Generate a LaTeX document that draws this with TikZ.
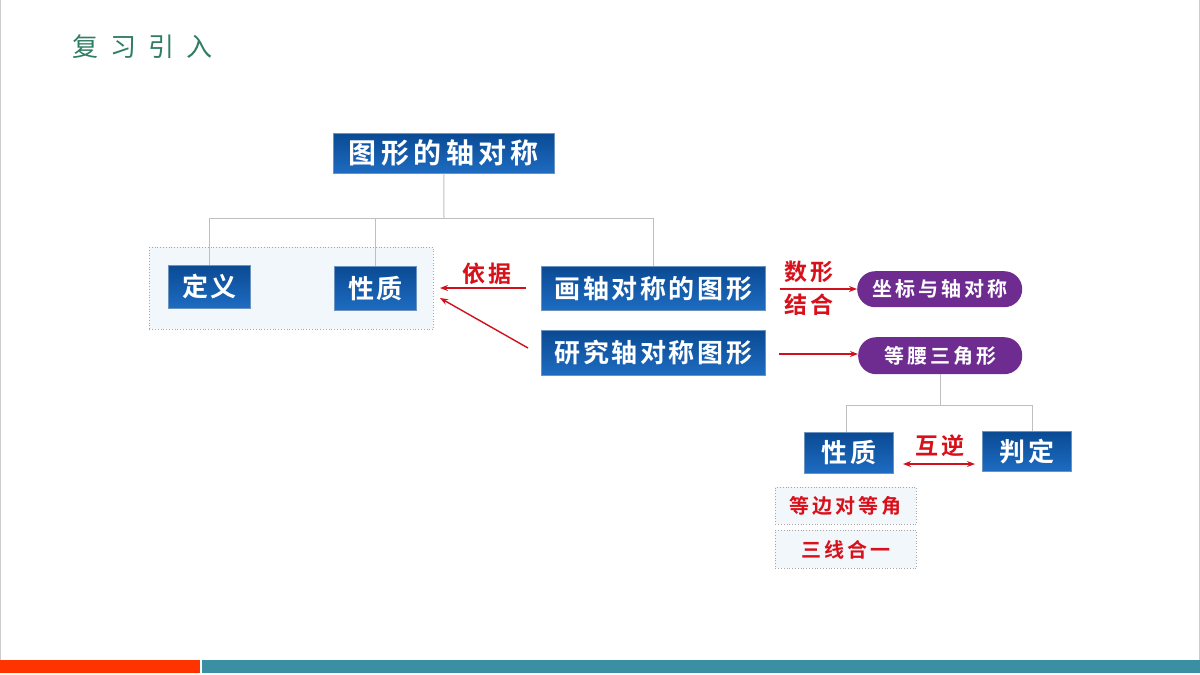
\documentclass[tikz,border=0pt]{standalone}
\usepackage{fontspec}
\newfontfamily\cjkroot[LetterSpace=16]{Noto Sans CJK SC Bold}
\newfontfamily\cjkb[LetterSpace=10]{Noto Sans CJK SC Bold}
\newfontfamily\cjkbs[LetterSpace=15]{Noto Sans CJK SC Bold}
\newfontfamily\cjkr[LetterSpace=12]{Noto Sans CJK SC Bold}
\newfontfamily\cjkt[LetterSpace=46]{Noto Sans CJK SC}
\usetikzlibrary{arrows.meta}
\definecolor{titlegreen}{HTML}{2E7D64}
\definecolor{boxtop}{HTML}{0A4A93}
\definecolor{boxbot}{HTML}{1E6CC2}
\definecolor{pillpurple}{HTML}{6E2C91}
\definecolor{arrred}{HTML}{D0101A}
\definecolor{txtred}{HTML}{D8101A}
\definecolor{linegray}{HTML}{BFBFBF}
\definecolor{panel}{HTML}{F2F7FC}
\definecolor{barred}{HTML}{FF3300}
\definecolor{barteal}{HTML}{3A90A2}
\tikzset{
  bluebox/.style={rectangle, top color=boxtop, bottom color=boxbot, draw=boxtop!60, line width=0.6pt,
    text=white, font=\cjkb\fontsize{26}{30}\selectfont, inner sep=0pt, anchor=north west},
  pill/.style={rectangle, rounded corners=18pt, fill=pillpurple, text=white,
    font=\cjkbs\fontsize{20}{24}\selectfont, inner sep=0pt, anchor=north west},
  dotbox/.style={rectangle, draw=gray!70, dotted, line width=0.8pt, fill=panel, inner sep=0pt, anchor=north west},
  redlab/.style={text=txtred, font=\cjkr\fontsize{23}{26}\selectfont, inner sep=0pt},
  conn/.style={draw=linegray, line width=1pt},
  redarr/.style={draw=arrred, line width=1.4pt, -{Stealth[length=8pt,width=6pt]}},
}
\begin{document}
\begin{tikzpicture}[x=1pt,y=-1pt]
\useasboundingbox (0,0) rectangle (1200,675);
\fill[white] (0,0) rectangle (1200,675);
\draw[gray!40, line width=1pt] (0.5,0) -- (0.5,660);
\draw[gray!40, line width=1pt] (1199.5,0) -- (1199.5,660);
% title
\node[text=titlegreen, font=\cjkt\fontsize{26}{30}\selectfont, anchor=west, inner sep=0pt] (title) at (72,47) {复习引入};
% bottom bars
\fill[barred] (0,660) rectangle (200,673);
\fill[barteal] (202,660) rectangle (1200,673);
% panel
\node[dotbox, minimum width=284pt, minimum height=82pt] (panel) at (149,247) {};
% boxes
\node[bluebox, minimum width=221pt, minimum height=40pt, font=\cjkroot\fontsize{28}{32}\selectfont] (root) at (333,133) {图形的轴对称};
\node[bluebox, minimum width=82pt, minimum height=43pt] (dingyi) at (168,265) {定义};
\node[bluebox, minimum width=82pt, minimum height=44pt] (xingzhi) at (334,266) {性质};
\node[bluebox, minimum width=224pt, minimum height=44pt] (hua) at (541,266) {画轴对称的图形};
\node[bluebox, minimum width=224pt, minimum height=45pt] (yanjiu) at (541,330) {研究轴对称图形};
% pills
\node[pill, minimum width=165pt, minimum height=36pt] (zuobiao) at (857,271) {坐标与轴对称};
\node[pill, minimum width=164pt, minimum height=37pt] (dengyao) at (858,337) {等腰三角形};
% lower boxes
\node[bluebox, minimum width=89pt, minimum height=41pt] (xz2) at (804,432) {性质};
\node[bluebox, minimum width=89pt, minimum height=40pt] (pd) at (982,431) {判定};
\node[dotbox, minimum width=141pt, minimum height=37pt, text=txtred, font=\cjkbs\fontsize{20}{24}\selectfont] (dbd) at (775,487) {等边对等角};
\node[dotbox, minimum width=141pt, minimum height=38pt, text=txtred, font=\cjkbs\fontsize{20}{24}\selectfont] (sxhy) at (775,530) {三线合一};
% gray tree connectors
\coordinate (j1) at (444,218);
\draw[conn] (root.south) -- (j1);
\draw[conn] (dingyi.north -| 209,0) |- (j1);
\draw[conn] (hua.north -| 653,0) |- (j1);
\draw[conn] (xingzhi.north) -- (xingzhi.north |- j1);
\coordinate (j2) at (940,405);
\draw[conn] (dengyao.south -| j2) -- (j2);
\draw[conn] (xz2.north -| 846,0) |- (j2);
\draw[conn] (pd.north -| 1032,0) |- (j2);
% red arrows
\coordinate (a1s) at (526,288);
\coordinate (a1e) at (440,288);
\draw[redarr] (a1s) -- (a1e);
\node[redlab] (yiju) at (487,274) {依据};
\coordinate (a2s) at (528,348);
\coordinate (a2e) at (440,298);
\draw[redarr] (a2s) -- (a2e);
\coordinate (a3s) at (780,289);
\draw[redarr] (a3s) -- (zuobiao.west |- a3s);
\node[redlab] (shuxing) at (809,272) {数形};
\node[redlab] (jiehe) at (809,305) {结合};
\coordinate (a4s) at (779,354);
\draw[redarr] (a4s) -- (dengyao.west |- a4s);
\coordinate (a5s) at (903,464);
\coordinate (a5e) at (975,464);
\draw[redarr, {Stealth[length=8pt,width=6pt]}-{Stealth[length=8pt,width=6pt]}] (a5s) -- (a5e);
\node[redlab] (huni) at (940,446) {互逆};
\end{tikzpicture}
\end{document}
